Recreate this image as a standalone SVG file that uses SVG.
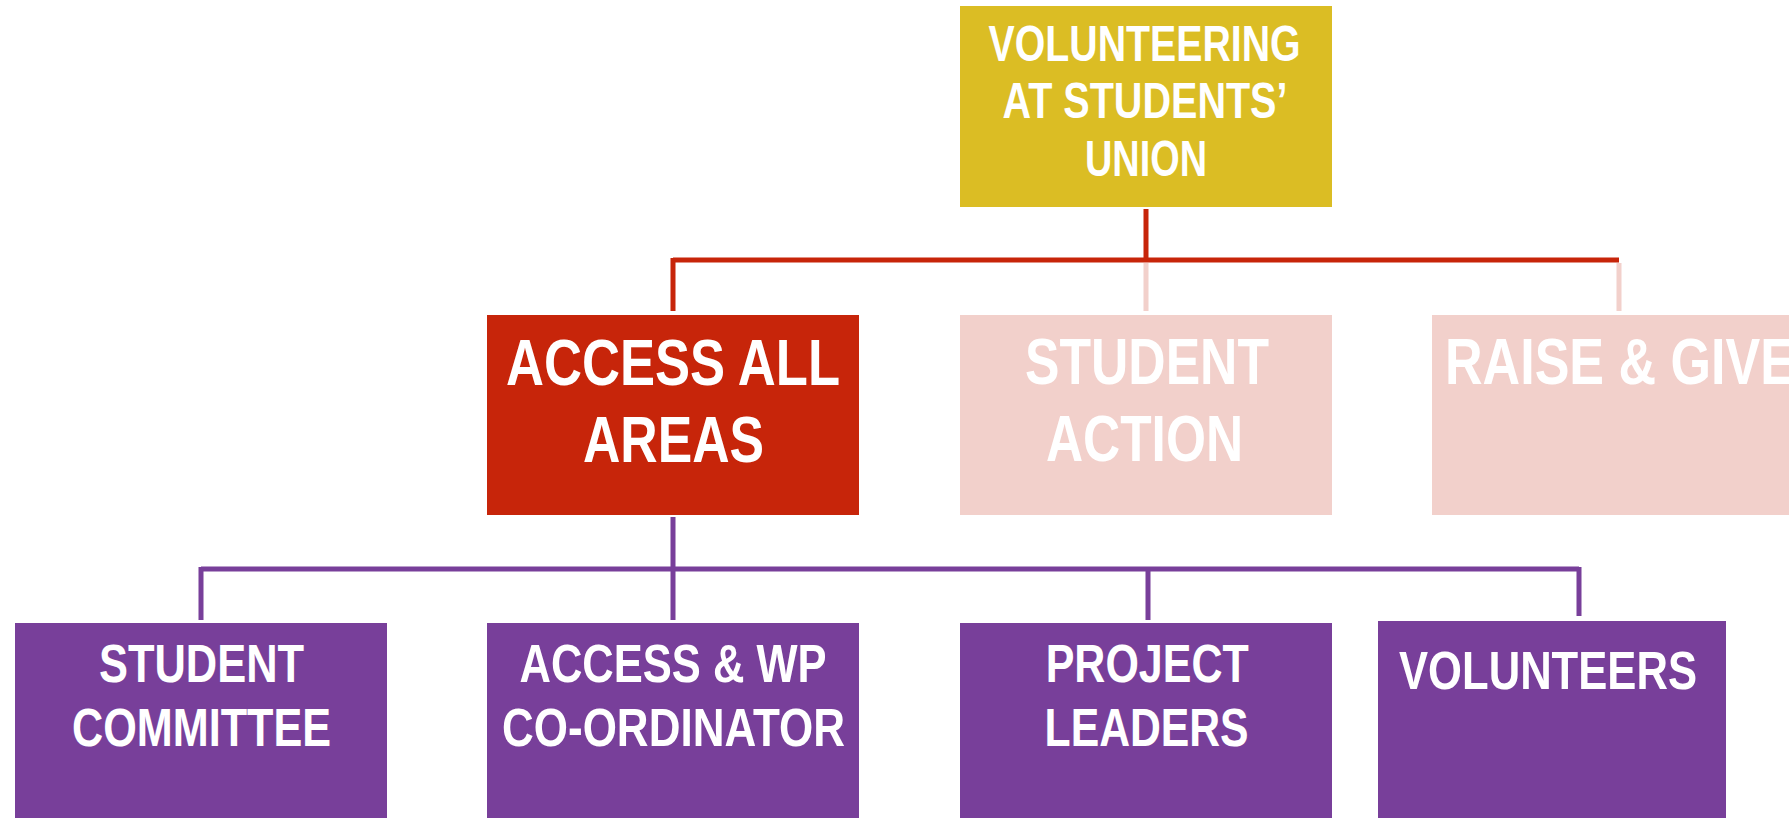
<svg xmlns="http://www.w3.org/2000/svg" width="1789" height="818" viewBox="0 0 1789 818">
<style>
.t{font-family:"Liberation Sans",Arial,sans-serif;font-weight:bold;fill:#ffffff;}
.big{font-size:65px;}
.mid{font-size:50px;}
.sm{font-size:53px;}
.gold{fill:#DBBD24;}
.red{fill:#C7250A;}
.pink{fill:#F2D0CB;}
.purple{fill:#783F9A;}
.lr{stroke:#C7250A;stroke-width:5;fill:none;}
.lp{stroke:#F2D0CB;stroke-width:5;fill:none;}
.lv{stroke:#783F9A;stroke-width:5;fill:none;}
</style>
<rect width="1789" height="818" fill="#ffffff"/>
<g id="connectors">
<path class="lr" d="M1146,209 V260 M673,260 H1619 M673,258 V311"/>
<path class="lp" d="M1146,263 V311 M1619,263 V311"/>
<path class="lv" d="M673,517 V569 M201,569 H1579 M201,567 V620 M673,569 V620 M1148,569 V620 M1579,567 V616"/>
</g>
<g id="node-volunteering">
<rect class="gold" x="960" y="6" width="372" height="201"/>
<text class="t mid" x="988.6" y="61" textLength="312" lengthAdjust="spacingAndGlyphs">VOLUNTEERING</text>
<text class="t mid" x="1002.5" y="118" textLength="285" lengthAdjust="spacingAndGlyphs">AT STUDENTS’</text>
<text class="t mid" x="1085" y="176" textLength="122" lengthAdjust="spacingAndGlyphs">UNION</text>
</g>
<g id="node-access-all-areas">
<rect class="red" x="487" y="315" width="372" height="200"/>
<text class="t big" x="506" y="385" textLength="334" lengthAdjust="spacingAndGlyphs">ACCESS ALL</text>
<text class="t big" x="583" y="462" textLength="181" lengthAdjust="spacingAndGlyphs">AREAS</text>
</g>
<g id="node-student-action">
<rect class="pink" x="960" y="315" width="372" height="200"/>
<text class="t big" x="1025" y="384" textLength="244" lengthAdjust="spacingAndGlyphs">STUDENT</text>
<text class="t big" x="1046" y="461" textLength="197" lengthAdjust="spacingAndGlyphs">ACTION</text>
</g>
<g id="node-raise-give">
<rect class="pink" x="1432" y="315" width="372" height="200"/>
<text class="t big" x="1445" y="384" textLength="350" lengthAdjust="spacingAndGlyphs">RAISE &amp; GIVE</text>
</g>
<g id="node-student-committee">
<rect class="purple" x="15" y="623" width="372" height="200"/>
<text class="t sm" x="99" y="682" textLength="205" lengthAdjust="spacingAndGlyphs">STUDENT</text>
<text class="t sm" x="72" y="746" textLength="259" lengthAdjust="spacingAndGlyphs">COMMITTEE</text>
</g>
<g id="node-access-wp">
<rect class="purple" x="487" y="623" width="372" height="200"/>
<text class="t sm" x="519.5" y="682" textLength="307" lengthAdjust="spacingAndGlyphs">ACCESS &amp; WP</text>
<text class="t sm" x="502" y="746" textLength="343" lengthAdjust="spacingAndGlyphs">CO-ORDINATOR</text>
</g>
<g id="node-project-leaders">
<rect class="purple" x="960" y="623" width="372" height="200"/>
<text class="t sm" x="1045.7" y="682" textLength="203" lengthAdjust="spacingAndGlyphs">PROJECT</text>
<text class="t sm" x="1044.6" y="746" textLength="204" lengthAdjust="spacingAndGlyphs">LEADERS</text>
</g>
<g id="node-volunteers">
<rect class="purple" x="1378" y="621" width="348" height="200"/>
<text class="t sm" x="1399" y="689" textLength="298" lengthAdjust="spacingAndGlyphs">VOLUNTEERS</text>
</g>
</svg>
